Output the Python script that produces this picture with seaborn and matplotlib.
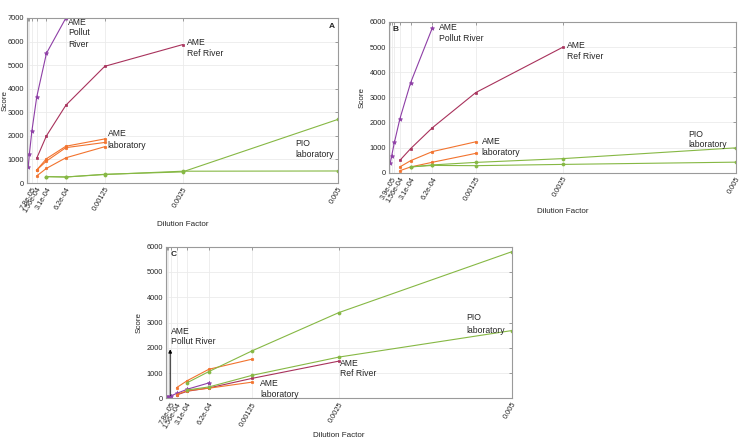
import pandas as pd
import seaborn as sns
import matplotlib.pyplot as plt

# dilution steps (halvings)
dil = [1.953e-5, 3.906e-5, 7.8125e-5, 1.5625e-4, 3.125e-4, 6.25e-4, 1.25e-3, 2.5e-3, 5e-3]

# panel A
a_pollut = [700, 1250, 2200, 3650, 5500, 7000]
a_ref = [1050, 2000, 3300, 4950, 5870]
a_lab1 = [550, 1030, 1560, 1870]
a_lab2 = [550, 930, 1500, 1720]
a_lab3 = [300, 620, 1070, 1540]
a_pio1 = [270, 255, 370, 470, 2700]
a_pio2 = [270, 255, 360, 500, 510]

# panel B
b_pollut = [400, 680, 1210, 2140, 3590, 5770]
b_ref = [490, 960, 1790, 3190, 4990]
b_lab1 = [230, 480, 840, 1230]
b_lab2 = [80, 230, 415, 770]
b_pio1 = [230, 310, 410, 560, 990]
b_pio2 = [230, 290, 280, 330, 420]

# panel C
c_pollut = [40, 60, 100, 190, 360, 610]
c_ref = [130, 280, 410, 790, 1470]
c_lab1 = [420, 700, 1150, 1550]
c_lab2 = [150, 300, 400, 640]
c_pio1 = [620, 1060, 1880, 3390, 5800]
c_pio2 = [330, 450, 910, 1630, 2680]

tick_vals = [7.8125e-5, 1.5625e-4, 3.125e-4, 6.25e-4, 1.25e-3, 2.5e-3, 5e-3]
labels_ac = ["7.8e-05", "1.56e-04", "3.1e-04", "6.2e-04", "0.00125", "0.0025", "0.005"]
tick_vals_b = [3.906e-5, 1.5625e-4, 3.125e-4, 6.25e-4, 1.25e-3, 2.5e-3, 5e-3]
labels_b = ["3.9e-05", "1.56e-04", "3.1e-04", "6.2e-04", "0.00125", "0.0025", "0.005"]

PURPLE = "#8E3FA6"
MAROON = "#A8325C"
ORANGE = "#F2732E"
GREEN = "#86B844"

sns.set_theme(style="whitegrid")
plt.rcParams["font.family"] = ["Liberation Sans", "DejaVu Sans"]
TXT = "#262626"

fig = plt.figure(figsize=(7.43, 4.41), dpi=100)
axA = fig.add_axes([27 / 743, 1 - 183 / 441, 311 / 743, 165 / 441])
axB = fig.add_axes([389 / 743, 1 - 172.7 / 441, 347 / 743, 150.7 / 441])
axC = fig.add_axes([165.7 / 743, 1 - 398.3 / 441, 346 / 743, 151.6 / 441])


def draw(ax, xs, ys, color, marker, ms):
    df = pd.DataFrame({"x": xs, "y": ys})
    sns.lineplot(data=df, x="x", y="y", ax=ax, color=color, marker=marker,
                 markersize=ms, markeredgewidth=0.5, markeredgecolor=color,
                 linewidth=0.8, estimator=None, sort=False)


def panel(ax, pollut, ref, labs, pios, ymax, ticks, labels, xlab_y, ylab_x):
    draw(ax, dil[0:6], pollut, PURPLE, "*", 3.2)
    draw(ax, dil[3:8], ref, MAROON, "s", 2)
    for l in labs:
        draw(ax, dil[3:7], l, ORANGE, "o", 1.8)
    for p in pios:
        draw(ax, dil[4:9], p, GREEN, "o", 2.2)
    ax.set_xlim(0, 0.005)
    ax.set_ylim(0, ymax)
    ax.set_yticks(range(0, ymax + 1, 1000))
    ax.set_xticks(ticks)
    ax.set_xticklabels(labels, rotation=60, ha="right", va="top",
                       rotation_mode="anchor")
    ax.set_xticks([d for d in dil if d not in ticks], minor=True)
    ax.tick_params(which="both", direction="in", length=2.5, width=0.6,
                   colors="#8c8c8c", labelcolor=TXT, labelsize=5.3,
                   top=True, right=True, pad=2)
    ax.grid(True, which="both", color="#ebebeb", linewidth=0.6)
    for s in ax.spines.values():
        s.set_color("#9a9a9a")
        s.set_linewidth(0.8)
    ax.set_xlabel("Dilution Factor", fontsize=5.8, color=TXT)
    ax.set_ylabel("Score", fontsize=5.8, color=TXT)
    ax.xaxis.set_label_coords(0.5, xlab_y)
    ax.yaxis.set_label_coords(ylab_x, 0.5)
    ax.set_facecolor("white")


panel(axA, a_pollut, a_ref, [a_lab1, a_lab2, a_lab3], [a_pio1, a_pio2],
      7000, tick_vals, labels_ac, -0.23, -0.058)
panel(axB, b_pollut, b_ref, [b_lab1, b_lab2], [b_pio1, b_pio2],
      6000, tick_vals_b, labels_b, -0.234, -0.066)
panel(axC, c_pollut, c_ref, [c_lab1, c_lab2], [c_pio1, c_pio2],
      6000, tick_vals, labels_ac, -0.222, -0.066)

fs = 6.2
kw = dict(fontsize=fs, color=TXT, va="center", ha="left")
# panel A annotations
axA.text(6.6e-4, 6830, "AME", **kw)
axA.text(6.6e-4, 6380, "Pollut", **kw)
axA.text(6.6e-4, 5880, "River", **kw)
axA.text(2.58e-3, 5950, "AME", **kw)
axA.text(2.58e-3, 5500, "Ref River", **kw)
axA.text(1.3e-3, 2080, "AME", **kw)
axA.text(1.3e-3, 1580, "laboratory", **kw)
axA.text(4.32e-3, 1680, "PIO", **kw)
axA.text(4.32e-3, 1190, "laboratory", **kw)
axA.text(4.9e-3, 6630, "A", fontsize=6, fontweight="bold", color=TXT,
         va="center", ha="center")

# panel B annotations
axB.text(7.25e-4, 5770, "AME", **kw)
axB.text(7.25e-4, 5350, "Pollut River", **kw)
axB.text(2.56e-3, 5045, "AME", **kw)
axB.text(2.56e-3, 4620, "Ref River", **kw)
axB.text(1.336e-3, 1234, "AME", **kw)
axB.text(1.336e-3, 812, "laboratory", **kw)
axB.text(4.31e-3, 1540, "PIO", **kw)
axB.text(4.31e-3, 1130, "laboratory", **kw)
axB.text(1.0e-4, 5720, "B", fontsize=6, fontweight="bold", color=TXT,
         va="center", ha="center")

# panel C annotations
axC.annotate("", xy=(6.5e-5, 2050), xytext=(6.5e-5, 0),
             arrowprops=dict(arrowstyle="-|>", color="black", lw=0.7,
                             mutation_scale=5))
axC.text(7.5e-5, 2625, "AME", **kw)
axC.text(7.5e-5, 2240, "Pollut River", **kw)
axC.text(2.52e-3, 1386, "AME", **kw)
axC.text(2.52e-3, 990, "Ref River", **kw)
axC.text(1.363e-3, 594, "AME", **kw)
axC.text(1.363e-3, 170, "laboratory", **kw)
axC.text(4.35e-3, 3180, "PIO", **kw)
axC.text(4.35e-3, 2665, "laboratory", **kw)
axC.text(7.5e-5, 5690, "C", fontsize=6, fontweight="bold", color=TXT,
         va="center", ha="left")

fig.savefig("out.png", dpi=100, facecolor="white")
